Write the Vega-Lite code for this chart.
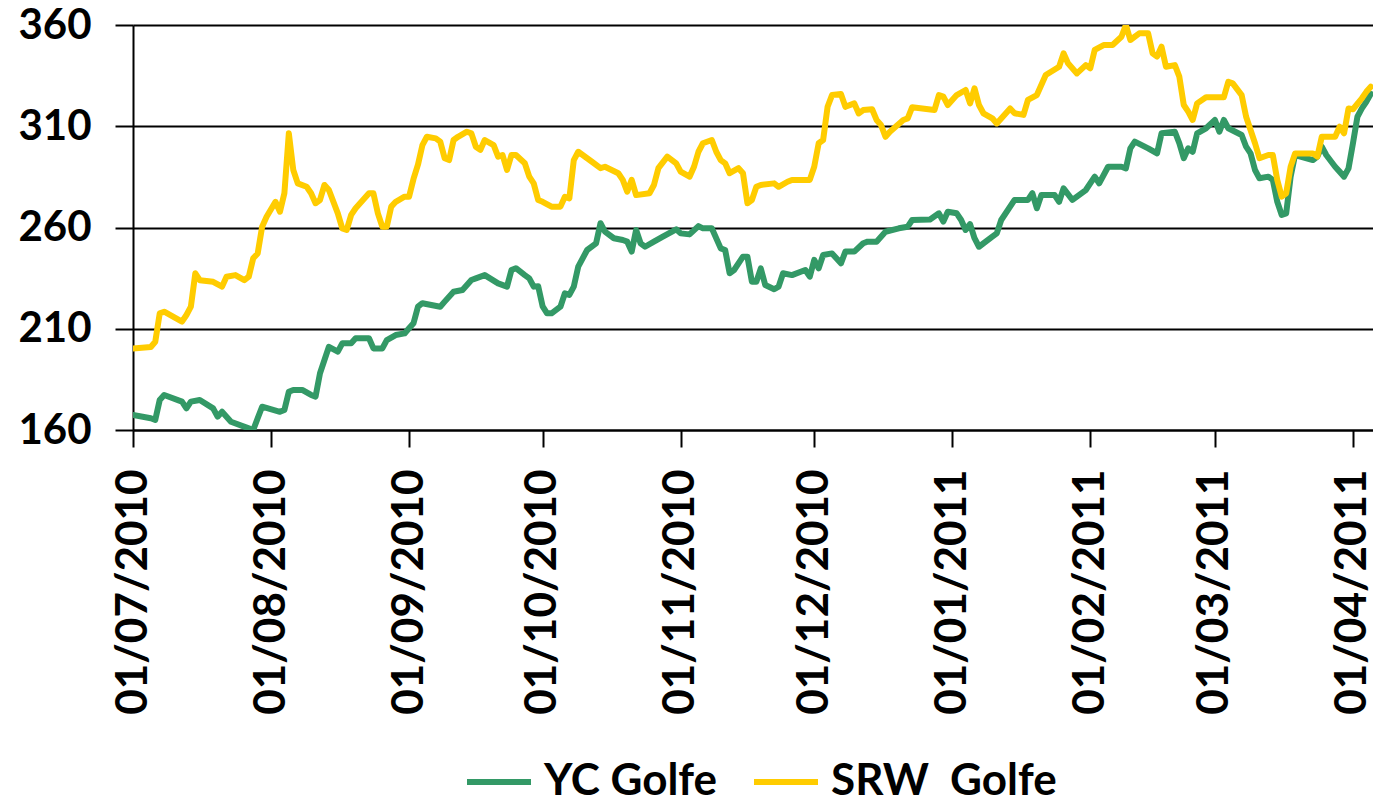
{
  "$schema": "https://vega.github.io/schema/vega-lite/v6.json",
  "autosize": "none",
  "width": 1240,
  "height": 405,
  "padding": {"left": 133, "top": 25, "right": 0, "bottom": 366},
  "background": "white",
  "datasets": {
    "rows": [
      {"series":"YC Golfe","date":"2010-07-01","value":167.4},{"series":"YC Golfe","date":"2010-07-05","value":165.8},{"series":"YC Golfe","date":"2010-07-06","value":165},{"series":"YC Golfe","date":"2010-07-07","value":174.8},{"series":"YC Golfe","date":"2010-07-08","value":177.3},{"series":"YC Golfe","date":"2010-07-12","value":174},{"series":"YC Golfe","date":"2010-07-13","value":170.7},{"series":"YC Golfe","date":"2010-07-14","value":174},{"series":"YC Golfe","date":"2010-07-16","value":174.8},{"series":"YC Golfe","date":"2010-07-19","value":170.7},{"series":"YC Golfe","date":"2010-07-20","value":166.6},{"series":"YC Golfe","date":"2010-07-21","value":169},{"series":"YC Golfe","date":"2010-07-23","value":164.1},{"series":"YC Golfe","date":"2010-07-27","value":160.8},{"series":"YC Golfe","date":"2010-07-28","value":160},{"series":"YC Golfe","date":"2010-07-29","value":165.8},{"series":"YC Golfe","date":"2010-07-30","value":171.5},{"series":"YC Golfe","date":"2010-08-03","value":169},{"series":"YC Golfe","date":"2010-08-04","value":169.9},{"series":"YC Golfe","date":"2010-08-05","value":178.9},{"series":"YC Golfe","date":"2010-08-06","value":179.8},{"series":"YC Golfe","date":"2010-08-08","value":179.8},{"series":"YC Golfe","date":"2010-08-10","value":177.3},{"series":"YC Golfe","date":"2010-08-11","value":176.5},{"series":"YC Golfe","date":"2010-08-12","value":188},{"series":"YC Golfe","date":"2010-08-13","value":194.6},{"series":"YC Golfe","date":"2010-08-14","value":201.1},{"series":"YC Golfe","date":"2010-08-16","value":198.7},{"series":"YC Golfe","date":"2010-08-17","value":202.8},{"series":"YC Golfe","date":"2010-08-19","value":202.8},{"series":"YC Golfe","date":"2010-08-20","value":205.3},{"series":"YC Golfe","date":"2010-08-23","value":205.3},{"series":"YC Golfe","date":"2010-08-24","value":200.3},{"series":"YC Golfe","date":"2010-08-26","value":200.3},{"series":"YC Golfe","date":"2010-08-27","value":204.4},{"series":"YC Golfe","date":"2010-08-29","value":206.9},{"series":"YC Golfe","date":"2010-08-31","value":207.7},{"series":"YC Golfe","date":"2010-09-01","value":210.2},{"series":"YC Golfe","date":"2010-09-02","value":212.7},{"series":"YC Golfe","date":"2010-09-03","value":220.9},{"series":"YC Golfe","date":"2010-09-04","value":222.6},{"series":"YC Golfe","date":"2010-09-06","value":221.7},{"series":"YC Golfe","date":"2010-09-08","value":220.9},{"series":"YC Golfe","date":"2010-09-09","value":223.4},{"series":"YC Golfe","date":"2010-09-11","value":228.3},{"series":"YC Golfe","date":"2010-09-13","value":229.1},{"series":"YC Golfe","date":"2010-09-15","value":234.1},{"series":"YC Golfe","date":"2010-09-16","value":234.9},{"series":"YC Golfe","date":"2010-09-18","value":236.5},{"series":"YC Golfe","date":"2010-09-21","value":232.4},{"series":"YC Golfe","date":"2010-09-23","value":230.8},{"series":"YC Golfe","date":"2010-09-24","value":239},{"series":"YC Golfe","date":"2010-09-25","value":239.9},{"series":"YC Golfe","date":"2010-09-27","value":236.5},{"series":"YC Golfe","date":"2010-09-28","value":234.9},{"series":"YC Golfe","date":"2010-09-29","value":230.8},{"series":"YC Golfe","date":"2010-09-30","value":231},{"series":"YC Golfe","date":"2010-10-01","value":221},{"series":"YC Golfe","date":"2010-10-02","value":217.6},{"series":"YC Golfe","date":"2010-10-03","value":217.6},{"series":"YC Golfe","date":"2010-10-05","value":220.9},{"series":"YC Golfe","date":"2010-10-06","value":227.5},{"series":"YC Golfe","date":"2010-10-07","value":226.7},{"series":"YC Golfe","date":"2010-10-08","value":230.8},{"series":"YC Golfe","date":"2010-10-09","value":240.7},{"series":"YC Golfe","date":"2010-10-11","value":248.9},{"series":"YC Golfe","date":"2010-10-13","value":252.2},{"series":"YC Golfe","date":"2010-10-14","value":262.1},{"series":"YC Golfe","date":"2010-10-15","value":258},{"series":"YC Golfe","date":"2010-10-17","value":254.7},{"series":"YC Golfe","date":"2010-10-19","value":253.8},{"series":"YC Golfe","date":"2010-10-20","value":253},{"series":"YC Golfe","date":"2010-10-21","value":248.1},{"series":"YC Golfe","date":"2010-10-22","value":258.8},{"series":"YC Golfe","date":"2010-10-23","value":252.2},{"series":"YC Golfe","date":"2010-10-24","value":250.5},{"series":"YC Golfe","date":"2010-10-26","value":253},{"series":"YC Golfe","date":"2010-10-28","value":255.5},{"series":"YC Golfe","date":"2010-10-31","value":259.1},{"series":"YC Golfe","date":"2010-11-01","value":257.1},{"series":"YC Golfe","date":"2010-11-03","value":256.6},{"series":"YC Golfe","date":"2010-11-05","value":260.7},{"series":"YC Golfe","date":"2010-11-06","value":259.6},{"series":"YC Golfe","date":"2010-11-08","value":259.6},{"series":"YC Golfe","date":"2010-11-10","value":249.7},{"series":"YC Golfe","date":"2010-11-11","value":248.9},{"series":"YC Golfe","date":"2010-11-12","value":237.4},{"series":"YC Golfe","date":"2010-11-13","value":239},{"series":"YC Golfe","date":"2010-11-15","value":245.6},{"series":"YC Golfe","date":"2010-11-16","value":245.6},{"series":"YC Golfe","date":"2010-11-17","value":233.2},{"series":"YC Golfe","date":"2010-11-18","value":233.2},{"series":"YC Golfe","date":"2010-11-19","value":239.8},{"series":"YC Golfe","date":"2010-11-20","value":231.6},{"series":"YC Golfe","date":"2010-11-22","value":229.5},{"series":"YC Golfe","date":"2010-11-23","value":230.8},{"series":"YC Golfe","date":"2010-11-24","value":237.4},{"series":"YC Golfe","date":"2010-11-26","value":236.5},{"series":"YC Golfe","date":"2010-11-29","value":239},{"series":"YC Golfe","date":"2010-11-30","value":235.7},{"series":"YC Golfe","date":"2010-12-01","value":244},{"series":"YC Golfe","date":"2010-12-02","value":239.8},{"series":"YC Golfe","date":"2010-12-03","value":246.4},{"series":"YC Golfe","date":"2010-12-05","value":247.2},{"series":"YC Golfe","date":"2010-12-07","value":242.3},{"series":"YC Golfe","date":"2010-12-08","value":248.1},{"series":"YC Golfe","date":"2010-12-10","value":248.1},{"series":"YC Golfe","date":"2010-12-12","value":252.2},{"series":"YC Golfe","date":"2010-12-13","value":253},{"series":"YC Golfe","date":"2010-12-15","value":253},{"series":"YC Golfe","date":"2010-12-17","value":257.9},{"series":"YC Golfe","date":"2010-12-20","value":259.6},{"series":"YC Golfe","date":"2010-12-22","value":260.4},{"series":"YC Golfe","date":"2010-12-23","value":263.7},{"series":"YC Golfe","date":"2010-12-27","value":264},{"series":"YC Golfe","date":"2010-12-29","value":267},{"series":"YC Golfe","date":"2010-12-30","value":262.9},{"series":"YC Golfe","date":"2010-12-31","value":267.8},{"series":"YC Golfe","date":"2011-01-02","value":267},{"series":"YC Golfe","date":"2011-01-03","value":263.7},{"series":"YC Golfe","date":"2011-01-04","value":258.8},{"series":"YC Golfe","date":"2011-01-05","value":261.7},{"series":"YC Golfe","date":"2011-01-06","value":254.7},{"series":"YC Golfe","date":"2011-01-07","value":250.5},{"series":"YC Golfe","date":"2011-01-10","value":255.5},{"series":"YC Golfe","date":"2011-01-11","value":257.1},{"series":"YC Golfe","date":"2011-01-12","value":263.7},{"series":"YC Golfe","date":"2011-01-15","value":273.6},{"series":"YC Golfe","date":"2011-01-18","value":273.6},{"series":"YC Golfe","date":"2011-01-19","value":276.9},{"series":"YC Golfe","date":"2011-01-20","value":269.5},{"series":"YC Golfe","date":"2011-01-21","value":276},{"series":"YC Golfe","date":"2011-01-24","value":276},{"series":"YC Golfe","date":"2011-01-25","value":272.7},{"series":"YC Golfe","date":"2011-01-26","value":279.3},{"series":"YC Golfe","date":"2011-01-28","value":273.6},{"series":"YC Golfe","date":"2011-01-31","value":278.5},{"series":"YC Golfe","date":"2011-02-02","value":285.1},{"series":"YC Golfe","date":"2011-02-03","value":281.8},{"series":"YC Golfe","date":"2011-02-05","value":290},{"series":"YC Golfe","date":"2011-02-08","value":290},{"series":"YC Golfe","date":"2011-02-09","value":289.2},{"series":"YC Golfe","date":"2011-02-10","value":299.1},{"series":"YC Golfe","date":"2011-02-11","value":302.4},{"series":"YC Golfe","date":"2011-02-14","value":299.1},{"series":"YC Golfe","date":"2011-02-16","value":296.6},{"series":"YC Golfe","date":"2011-02-17","value":306.5},{"series":"YC Golfe","date":"2011-02-20","value":307.3},{"series":"YC Golfe","date":"2011-02-21","value":301.6},{"series":"YC Golfe","date":"2011-02-22","value":294.2},{"series":"YC Golfe","date":"2011-02-23","value":299.1},{"series":"YC Golfe","date":"2011-02-24","value":297.4},{"series":"YC Golfe","date":"2011-02-25","value":306.5},{"series":"YC Golfe","date":"2011-02-27","value":309},{"series":"YC Golfe","date":"2011-03-01","value":313.1},{"series":"YC Golfe","date":"2011-03-02","value":307.3},{"series":"YC Golfe","date":"2011-03-03","value":313.1},{"series":"YC Golfe","date":"2011-03-04","value":309},{"series":"YC Golfe","date":"2011-03-07","value":305.7},{"series":"YC Golfe","date":"2011-03-08","value":299.9},{"series":"YC Golfe","date":"2011-03-09","value":296.6},{"series":"YC Golfe","date":"2011-03-10","value":288.4},{"series":"YC Golfe","date":"2011-03-11","value":284.3},{"series":"YC Golfe","date":"2011-03-13","value":285.1},{"series":"YC Golfe","date":"2011-03-14","value":283.5},{"series":"YC Golfe","date":"2011-03-15","value":272.7},{"series":"YC Golfe","date":"2011-03-16","value":266.2},{"series":"YC Golfe","date":"2011-03-17","value":267},{"series":"YC Golfe","date":"2011-03-18","value":285.1},{"series":"YC Golfe","date":"2011-03-19","value":295.8},{"series":"YC Golfe","date":"2011-03-23","value":293.3},{"series":"YC Golfe","date":"2011-03-24","value":295},{"series":"YC Golfe","date":"2011-03-25","value":299.9},{"series":"YC Golfe","date":"2011-03-26","value":295.8},{"series":"YC Golfe","date":"2011-03-28","value":290},{"series":"YC Golfe","date":"2011-03-29","value":287.6},{"series":"YC Golfe","date":"2011-03-30","value":285.1},{"series":"YC Golfe","date":"2011-03-31","value":289.2},{"series":"YC Golfe","date":"2011-04-01","value":301.6},{"series":"YC Golfe","date":"2011-04-02","value":314.7},{"series":"YC Golfe","date":"2011-04-03","value":318.8},{"series":"YC Golfe","date":"2011-04-04","value":322.1},{"series":"YC Golfe","date":"2011-04-05","value":326},
      {"series":"SRW  Golfe","date":"2010-07-01","value":200.3},{"series":"SRW  Golfe","date":"2010-07-05","value":201},{"series":"SRW  Golfe","date":"2010-07-06","value":203.6},{"series":"SRW  Golfe","date":"2010-07-07","value":217.6},{"series":"SRW  Golfe","date":"2010-07-08","value":218.4},{"series":"SRW  Golfe","date":"2010-07-12","value":213.5},{"series":"SRW  Golfe","date":"2010-07-13","value":216.8},{"series":"SRW  Golfe","date":"2010-07-14","value":220.9},{"series":"SRW  Golfe","date":"2010-07-15","value":237.4},{"series":"SRW  Golfe","date":"2010-07-16","value":234},{"series":"SRW  Golfe","date":"2010-07-19","value":233.2},{"series":"SRW  Golfe","date":"2010-07-21","value":230.8},{"series":"SRW  Golfe","date":"2010-07-22","value":235.7},{"series":"SRW  Golfe","date":"2010-07-24","value":236.5},{"series":"SRW  Golfe","date":"2010-07-26","value":234},{"series":"SRW  Golfe","date":"2010-07-27","value":235.7},{"series":"SRW  Golfe","date":"2010-07-28","value":244.8},{"series":"SRW  Golfe","date":"2010-07-29","value":247.2},{"series":"SRW  Golfe","date":"2010-07-30","value":260.4},{"series":"SRW  Golfe","date":"2010-07-31","value":265.3},{"series":"SRW  Golfe","date":"2010-08-02","value":272.7},{"series":"SRW  Golfe","date":"2010-08-03","value":267.8},{"series":"SRW  Golfe","date":"2010-08-04","value":276.9},{"series":"SRW  Golfe","date":"2010-08-05","value":306.5},{"series":"SRW  Golfe","date":"2010-08-06","value":288.4},{"series":"SRW  Golfe","date":"2010-08-07","value":281.8},{"series":"SRW  Golfe","date":"2010-08-09","value":280.1},{"series":"SRW  Golfe","date":"2010-08-10","value":276.9},{"series":"SRW  Golfe","date":"2010-08-11","value":272},{"series":"SRW  Golfe","date":"2010-08-12","value":273.6},{"series":"SRW  Golfe","date":"2010-08-13","value":281},{"series":"SRW  Golfe","date":"2010-08-14","value":278.5},{"series":"SRW  Golfe","date":"2010-08-16","value":267},{"series":"SRW  Golfe","date":"2010-08-17","value":259.6},{"series":"SRW  Golfe","date":"2010-08-18","value":258.8},{"series":"SRW  Golfe","date":"2010-08-19","value":266.2},{"series":"SRW  Golfe","date":"2010-08-20","value":269.5},{"series":"SRW  Golfe","date":"2010-08-23","value":276.9},{"series":"SRW  Golfe","date":"2010-08-24","value":276.9},{"series":"SRW  Golfe","date":"2010-08-25","value":267},{"series":"SRW  Golfe","date":"2010-08-26","value":260.4},{"series":"SRW  Golfe","date":"2010-08-27","value":260.4},{"series":"SRW  Golfe","date":"2010-08-28","value":270.3},{"series":"SRW  Golfe","date":"2010-08-29","value":272.7},{"series":"SRW  Golfe","date":"2010-08-31","value":275.2},{"series":"SRW  Golfe","date":"2010-09-01","value":275.2},{"series":"SRW  Golfe","date":"2010-09-02","value":284},{"series":"SRW  Golfe","date":"2010-09-03","value":291},{"series":"SRW  Golfe","date":"2010-09-04","value":300.7},{"series":"SRW  Golfe","date":"2010-09-05","value":304.8},{"series":"SRW  Golfe","date":"2010-09-07","value":304},{"series":"SRW  Golfe","date":"2010-09-08","value":302.4},{"series":"SRW  Golfe","date":"2010-09-09","value":294.2},{"series":"SRW  Golfe","date":"2010-09-10","value":293.3},{"series":"SRW  Golfe","date":"2010-09-11","value":303.2},{"series":"SRW  Golfe","date":"2010-09-12","value":304.8},{"series":"SRW  Golfe","date":"2010-09-14","value":307.3},{"series":"SRW  Golfe","date":"2010-09-15","value":306.5},{"series":"SRW  Golfe","date":"2010-09-16","value":299.9},{"series":"SRW  Golfe","date":"2010-09-17","value":298.3},{"series":"SRW  Golfe","date":"2010-09-18","value":303.2},{"series":"SRW  Golfe","date":"2010-09-20","value":300.7},{"series":"SRW  Golfe","date":"2010-09-21","value":295},{"series":"SRW  Golfe","date":"2010-09-22","value":295.8},{"series":"SRW  Golfe","date":"2010-09-23","value":288.4},{"series":"SRW  Golfe","date":"2010-09-24","value":295.8},{"series":"SRW  Golfe","date":"2010-09-25","value":295.8},{"series":"SRW  Golfe","date":"2010-09-27","value":291.7},{"series":"SRW  Golfe","date":"2010-09-28","value":285.1},{"series":"SRW  Golfe","date":"2010-09-29","value":281.8},{"series":"SRW  Golfe","date":"2010-09-30","value":273.6},{"series":"SRW  Golfe","date":"2010-10-01","value":272.7},{"series":"SRW  Golfe","date":"2010-10-03","value":270.3},{"series":"SRW  Golfe","date":"2010-10-05","value":270.3},{"series":"SRW  Golfe","date":"2010-10-06","value":275.2},{"series":"SRW  Golfe","date":"2010-10-07","value":274.4},{"series":"SRW  Golfe","date":"2010-10-08","value":293.3},{"series":"SRW  Golfe","date":"2010-10-09","value":297.4},{"series":"SRW  Golfe","date":"2010-10-11","value":294.2},{"series":"SRW  Golfe","date":"2010-10-12","value":292.6},{"series":"SRW  Golfe","date":"2010-10-14","value":289.3},{"series":"SRW  Golfe","date":"2010-10-15","value":290},{"series":"SRW  Golfe","date":"2010-10-18","value":286.8},{"series":"SRW  Golfe","date":"2010-10-19","value":283.5},{"series":"SRW  Golfe","date":"2010-10-20","value":277.7},{"series":"SRW  Golfe","date":"2010-10-21","value":283.5},{"series":"SRW  Golfe","date":"2010-10-22","value":276},{"series":"SRW  Golfe","date":"2010-10-25","value":276.9},{"series":"SRW  Golfe","date":"2010-10-26","value":281},{"series":"SRW  Golfe","date":"2010-10-27","value":289.3},{"series":"SRW  Golfe","date":"2010-10-29","value":295},{"series":"SRW  Golfe","date":"2010-10-31","value":291.7},{"series":"SRW  Golfe","date":"2010-11-01","value":287.6},{"series":"SRW  Golfe","date":"2010-11-03","value":285.1},{"series":"SRW  Golfe","date":"2010-11-04","value":290},{"series":"SRW  Golfe","date":"2010-11-05","value":297.4},{"series":"SRW  Golfe","date":"2010-11-06","value":301.6},{"series":"SRW  Golfe","date":"2010-11-08","value":303.2},{"series":"SRW  Golfe","date":"2010-11-09","value":297.4},{"series":"SRW  Golfe","date":"2010-11-10","value":293.3},{"series":"SRW  Golfe","date":"2010-11-11","value":291.7},{"series":"SRW  Golfe","date":"2010-11-12","value":286.8},{"series":"SRW  Golfe","date":"2010-11-14","value":289.3},{"series":"SRW  Golfe","date":"2010-11-15","value":286.8},{"series":"SRW  Golfe","date":"2010-11-16","value":272},{"series":"SRW  Golfe","date":"2010-11-17","value":273.6},{"series":"SRW  Golfe","date":"2010-11-18","value":280.1},{"series":"SRW  Golfe","date":"2010-11-19","value":281},{"series":"SRW  Golfe","date":"2010-11-22","value":281.8},{"series":"SRW  Golfe","date":"2010-11-23","value":280.1},{"series":"SRW  Golfe","date":"2010-11-25","value":282.6},{"series":"SRW  Golfe","date":"2010-11-26","value":283.5},{"series":"SRW  Golfe","date":"2010-11-30","value":283.5},{"series":"SRW  Golfe","date":"2010-12-01","value":290},{"series":"SRW  Golfe","date":"2010-12-02","value":301.6},{"series":"SRW  Golfe","date":"2010-12-03","value":303.2},{"series":"SRW  Golfe","date":"2010-12-04","value":319.6},{"series":"SRW  Golfe","date":"2010-12-05","value":325.4},{"series":"SRW  Golfe","date":"2010-12-07","value":325.9},{"series":"SRW  Golfe","date":"2010-12-08","value":319.6},{"series":"SRW  Golfe","date":"2010-12-10","value":321.3},{"series":"SRW  Golfe","date":"2010-12-11","value":316.3},{"series":"SRW  Golfe","date":"2010-12-12","value":318},{"series":"SRW  Golfe","date":"2010-12-14","value":318.4},{"series":"SRW  Golfe","date":"2010-12-15","value":313.1},{"series":"SRW  Golfe","date":"2010-12-16","value":310.6},{"series":"SRW  Golfe","date":"2010-12-17","value":304.8},{"series":"SRW  Golfe","date":"2010-12-18","value":307.3},{"series":"SRW  Golfe","date":"2010-12-21","value":313.1},{"series":"SRW  Golfe","date":"2010-12-22","value":313.9},{"series":"SRW  Golfe","date":"2010-12-23","value":319.4},{"series":"SRW  Golfe","date":"2010-12-28","value":318},{"series":"SRW  Golfe","date":"2010-12-29","value":325.4},{"series":"SRW  Golfe","date":"2010-12-30","value":324.6},{"series":"SRW  Golfe","date":"2010-12-31","value":320.5},{"series":"SRW  Golfe","date":"2011-01-01","value":323},{"series":"SRW  Golfe","date":"2011-01-02","value":325.4},{"series":"SRW  Golfe","date":"2011-01-04","value":327.9},{"series":"SRW  Golfe","date":"2011-01-05","value":321.3},{"series":"SRW  Golfe","date":"2011-01-06","value":328.7},{"series":"SRW  Golfe","date":"2011-01-07","value":320.5},{"series":"SRW  Golfe","date":"2011-01-08","value":316.4},{"series":"SRW  Golfe","date":"2011-01-10","value":313.9},{"series":"SRW  Golfe","date":"2011-01-11","value":311.4},{"series":"SRW  Golfe","date":"2011-01-14","value":318.8},{"series":"SRW  Golfe","date":"2011-01-15","value":316.4},{"series":"SRW  Golfe","date":"2011-01-17","value":315.6},{"series":"SRW  Golfe","date":"2011-01-18","value":323},{"series":"SRW  Golfe","date":"2011-01-20","value":325.4},{"series":"SRW  Golfe","date":"2011-01-22","value":335.3},{"series":"SRW  Golfe","date":"2011-01-25","value":339.4},{"series":"SRW  Golfe","date":"2011-01-26","value":346},{"series":"SRW  Golfe","date":"2011-01-27","value":341.1},{"series":"SRW  Golfe","date":"2011-01-29","value":336.1},{"series":"SRW  Golfe","date":"2011-01-31","value":340.2},{"series":"SRW  Golfe","date":"2011-02-01","value":338.6},{"series":"SRW  Golfe","date":"2011-02-02","value":347.7},{"series":"SRW  Golfe","date":"2011-02-04","value":350.1},{"series":"SRW  Golfe","date":"2011-02-06","value":350.1},{"series":"SRW  Golfe","date":"2011-02-08","value":354.2},{"series":"SRW  Golfe","date":"2011-02-09","value":360},{"series":"SRW  Golfe","date":"2011-02-10","value":352.6},{"series":"SRW  Golfe","date":"2011-02-12","value":355.9},{"series":"SRW  Golfe","date":"2011-02-14","value":355.9},{"series":"SRW  Golfe","date":"2011-02-15","value":346},{"series":"SRW  Golfe","date":"2011-02-16","value":344.4},{"series":"SRW  Golfe","date":"2011-02-17","value":349.3},{"series":"SRW  Golfe","date":"2011-02-18","value":339.4},{"series":"SRW  Golfe","date":"2011-02-20","value":340.2},{"series":"SRW  Golfe","date":"2011-02-21","value":334.5},{"series":"SRW  Golfe","date":"2011-02-22","value":320.5},{"series":"SRW  Golfe","date":"2011-02-23","value":317.2},{"series":"SRW  Golfe","date":"2011-02-24","value":313.1},{"series":"SRW  Golfe","date":"2011-02-25","value":321.3},{"series":"SRW  Golfe","date":"2011-02-27","value":324.3},{"series":"SRW  Golfe","date":"2011-03-03","value":324.3},{"series":"SRW  Golfe","date":"2011-03-04","value":332},{"series":"SRW  Golfe","date":"2011-03-05","value":331.2},{"series":"SRW  Golfe","date":"2011-03-07","value":325.4},{"series":"SRW  Golfe","date":"2011-03-08","value":314.7},{"series":"SRW  Golfe","date":"2011-03-10","value":301.6},{"series":"SRW  Golfe","date":"2011-03-11","value":294.2},{"series":"SRW  Golfe","date":"2011-03-13","value":295.8},{"series":"SRW  Golfe","date":"2011-03-14","value":295.8},{"series":"SRW  Golfe","date":"2011-03-15","value":283.5},{"series":"SRW  Golfe","date":"2011-03-16","value":275.2},{"series":"SRW  Golfe","date":"2011-03-17","value":276.9},{"series":"SRW  Golfe","date":"2011-03-18","value":290},{"series":"SRW  Golfe","date":"2011-03-19","value":296.6},{"series":"SRW  Golfe","date":"2011-03-23","value":296.6},{"series":"SRW  Golfe","date":"2011-03-24","value":295},{"series":"SRW  Golfe","date":"2011-03-25","value":304.8},{"series":"SRW  Golfe","date":"2011-03-28","value":304.8},{"series":"SRW  Golfe","date":"2011-03-29","value":309.8},{"series":"SRW  Golfe","date":"2011-03-30","value":306.5},{"series":"SRW  Golfe","date":"2011-03-31","value":318.8},{"series":"SRW  Golfe","date":"2011-04-01","value":318.4},{"series":"SRW  Golfe","date":"2011-04-03","value":323.8},{"series":"SRW  Golfe","date":"2011-04-04","value":327},{"series":"SRW  Golfe","date":"2011-04-05","value":329.5}
    ]
  },
  "data": {"name": "rows"},
  "mark": {"type": "line", "strokeWidth": 6, "strokeJoin": "round", "strokeCap": "round", "clip": true},
  "encoding": {
    "x": {
      "field": "date",
      "type": "temporal",
      "scale": {"type": "utc", "domain": [{"year": 2010, "month": 7, "date": 1, "utc": true}, {"year": 2011, "month": 4, "date": 5, "hours": 12, "utc": true}], "nice": false},
      "axis": {
        "title": null,
        "format": "%d/%m/%Y",
        "values": [
          {"year": 2010, "month": 7, "date": 1, "utc": true},
          {"year": 2010, "month": 8, "date": 1, "utc": true},
          {"year": 2010, "month": 9, "date": 1, "utc": true},
          {"year": 2010, "month": 10, "date": 1, "utc": true},
          {"year": 2010, "month": 11, "date": 1, "utc": true},
          {"year": 2010, "month": 12, "date": 1, "utc": true},
          {"year": 2011, "month": 1, "date": 1, "utc": true},
          {"year": 2011, "month": 2, "date": 1, "utc": true},
          {"year": 2011, "month": 3, "date": 1, "utc": true},
          {"year": 2011, "month": 4, "date": 1, "utc": true}
        ],
        "labelAngle": -90,
        "labelAlign": "right",
        "labelBaseline": "middle",
        "labelFont": "Lato",
        "labelFontWeight": "bold",
        "labelFontSize": 44,
        "labelColor": "black",
        "labelPadding": 22,
        "labelLimit": 400,
        "labelOverlap": false,
        "labelFlush": false,
        "tickSize": 17,
        "tickWidth": 2,
        "tickColor": "black",
        "domainColor": "black",
        "domainWidth": 2,
        "grid": false
      }
    },
    "y": {
      "field": "value",
      "type": "quantitative",
      "scale": {"domain": [160, 360], "nice": false, "zero": false},
      "axis": {
        "title": null,
        "values": [160, 210, 260, 310, 360],
        "labelFont": "Lato",
        "labelFontWeight": "bold",
        "labelFontSize": 42,
        "labelColor": "black",
        "labelPadding": 24,
        "labelFlush": false,
        "tickSize": 18,
        "tickWidth": 2,
        "tickColor": "black",
        "domainColor": "black",
        "domainWidth": 2,
        "grid": true,
        "gridColor": "black",
        "gridWidth": 2,
        "gridOpacity": 1
      }
    },
    "color": {
      "field": "series",
      "type": "nominal",
      "sort": ["YC Golfe", "SRW  Golfe"],
      "scale": {"domain": ["YC Golfe", "SRW  Golfe"], "range": ["#339966", "#FFCC00"]},
      "legend": {
        "title": null,
        "orient": "none",
        "legendX": 331,
        "legendY": 722,
        "padding": 0,
        "direction": "horizontal",
        "symbolType": "stroke",
        "symbolSize": 4096,
        "symbolStrokeWidth": 6,
        "labelFont": "Lato",
        "labelFontWeight": "bold",
        "labelFontSize": 44,
        "labelColor": "black",
        "labelOffset": 10,
        "labelLimit": 400,
        "labelExpr": "replace(datum.label, '  ', ' \u00a0')",
        "columnPadding": 24
      }
    }
  },
  "config": {"view": {"stroke": null}}
}
